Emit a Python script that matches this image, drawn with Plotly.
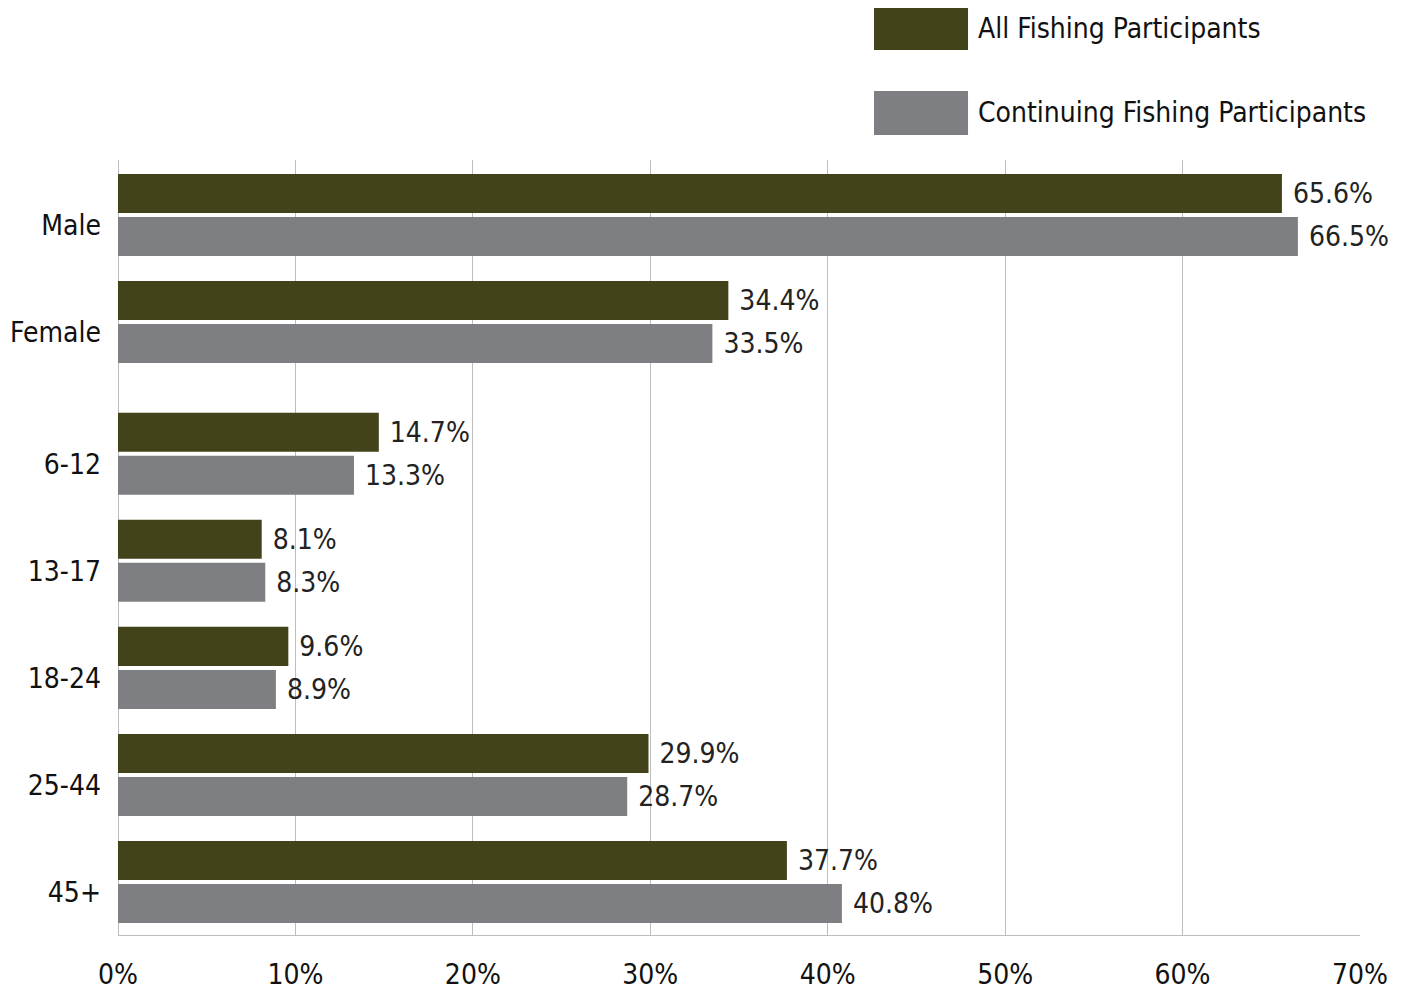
import plotly.graph_objects as go

# data
categories = ["Male", "Female", "6-12", "13-17", "18-24", "25-44", "45+"]
groups = ["gender", "gender", "age", "age", "age", "age", "age"]
all_participants = [65.6, 34.4, 14.7, 8.1, 9.6, 29.9, 37.7]
continuing_participants = [66.5, 33.5, 13.3, 8.3, 8.9, 28.7, 40.8]
x_ticks = [0, 10, 20, 30, 40, 50, 60, 70]

series_names = ["All Fishing Participants", "Continuing Fishing Participants"]
colors = ["#43431B", "#7E7F83"]
FONT = "Liberation Sans Narrow, DejaVu Sans Condensed, sans-serif"
FS = 28


def fnt(color="#111111"):
    return dict(family=FONT, size=FS, color=color)


# extra space between the gender block and the age block
group_gap = 0.23
y_pos = []
g_idx = 0
for i, g in enumerate(groups):
    if i > 0 and g != groups[i - 1]:
        g_idx += 1
    y_pos.append(i + g_idx * group_gap)

fig = go.Figure()
for name, vals, col in zip(series_names,
                           [all_participants, continuing_participants], colors):
    fig.add_trace(go.Bar(
        y=y_pos, x=vals, orientation="h", name=name,
        marker=dict(color=col, line_width=0),
        text=vals, texttemplate=" %{x:.1f}%", textposition="outside",
        textfont=fnt("#222222"),
        cliponaxis=False, hoverinfo="skip", showlegend=False,
    ))

# custom legend: large swatches with labels, top right
legend_rows = [(1.1987, 1.1419), (1.089, 1.0323)]
for (y1, y0), name, col in zip(legend_rows, series_names, colors):
    fig.add_shape(type="rect", xref="paper", yref="paper",
                  x0=0.6087, x1=0.6844, y0=y0, y1=y1,
                  fillcolor=col, line_width=0)
    fig.add_annotation(xref="paper", yref="paper", x=0.6910, y=(y0 + y1) / 2,
                       text=name, showarrow=False, xanchor="left",
                       yanchor="middle", font=fnt())

# page body adds an 8px offset, so the figure is 8px smaller on each axis
fig.update_layout(
    width=1395, height=986,
    margin=dict(l=110, r=43, t=152, b=59),
    plot_bgcolor="white", paper_bgcolor="white",
    barmode="group", bargap=0.196, bargroupgap=0.093,
    font=fnt(),
)
fig.update_xaxes(
    range=[0, 70], tickvals=x_ticks, ticktext=[f"{t}%" for t in x_ticks],
    showgrid=True, gridcolor="#BDBDBD", gridwidth=1,
    zeroline=True, zerolinecolor="#BDBDBD", zerolinewidth=1,
    showline=True, linecolor="#BDBDBD", linewidth=1,
    ticks="", ticklabelstandoff=14, automargin=False,
    tickfont=fnt(),
)
fig.update_yaxes(
    range=[6.725, -0.514], tickvals=y_pos, ticktext=categories,
    showgrid=False, zeroline=False, showline=False, ticks="",
    ticklabelstandoff=16, ticklabelshift=-10, automargin=False,
    tickfont=fnt(),
)

fig.write_html("out.html")
